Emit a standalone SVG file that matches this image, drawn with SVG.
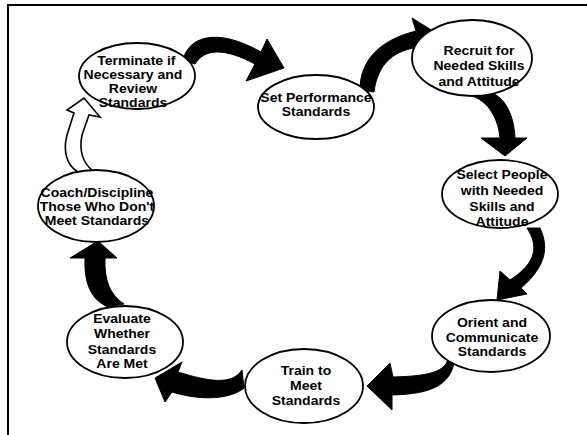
<svg xmlns="http://www.w3.org/2000/svg" width="587" height="435" viewBox="0 0 587 435">
<style>
.n ellipse{fill:#fff;stroke:#000;stroke-width:1.8}
.n text{font-family:"Liberation Sans",Arial,sans-serif;font-weight:bold;font-size:12.4px;text-anchor:middle;fill:#000}
.a{fill:#000;stroke:#000;stroke-width:1}
.w{fill:#fff;stroke:#000;stroke-width:1.6}
.f{stroke:#000;stroke-width:2;fill:none}
</style>
<rect width="587" height="435" fill="#fff"/>
<path class="f" d="M8,435 V5 H587"/>
<g id="connectors">
<path class="a" d="M183,60 C188,38 215,26 261,52 L267,39 L284,68 L246,81 L255,64 C225,48 205,48 195,64 Z"/>
<path class="a" d="M360,90 C360,60 380,40 416,31 L412,18 L441,36 L423,56 L420,47 C395,50 378,62 374,92 Z"/>
<path class="a" d="M468,95 C485,98 498,115 500,138 L481,138 L505,156 L527,138 L515,138 C514,115 505,98 492,93 Z"/>
<path class="a" d="M527,228 C538,245 538,262 510,280 L500,271 L497,300 L527,294 L521,288 C548,265 548,245 540,228 Z"/>
<path class="a" d="M448,350 C452,372 430,376 393,377 L390,363 L367,386 L392,410 L392,395 C432,394 455,385 455,352 Z"/>
<path class="a" d="M242,370 C232,385 210,382 178,372 L182,362 L155,378 L165,402 L172,392 C205,402 232,398 244,388 Z"/>
<path class="a" d="M85,258 C84,285 92,300 108,307 L124,304 C110,295 104,280 105,258 L117,258 L98,241 L70,258 Z"/>
<path class="w" d="M78,172 C66,165 63,150 67,135 L74,113 L67,110 L84,98 L100,117 L89,115 L82,135 C79,150 83,163 93,171"/>
</g>
<g id="terminate" class="n"><ellipse cx="137" cy="76" rx="58" ry="33"/>
<g transform="matrix(1.13 0 0 1 -17.29 0)"><text x="136" y="65">Terminate if</text><text x="133" y="79">Necessary and</text><text x="133" y="93">Review</text><text x="133" y="107">Standards</text></g></g>
<g id="set" class="n"><ellipse cx="316" cy="107" rx="58" ry="32"/>
<g transform="matrix(1.13 0 0 1 -41.08 0)"><text x="316" y="102">Set Performance</text><text x="316" y="116">Standards</text></g></g>
<g id="recruit" class="n"><ellipse cx="472" cy="58" rx="60" ry="38"/>
<g transform="matrix(1.13 0 0 1 -62.27 0)"><text x="479" y="55">Recruit for</text><text x="479" y="70">Needed Skills</text><text x="479" y="86">and Attitude</text></g></g>
<g id="select" class="n"><ellipse cx="500" cy="194" rx="58" ry="34"/>
<g transform="matrix(1.13 0 0 1 -65.26 0)"><text x="502" y="179">Select People</text><text x="502" y="195">with Needed</text><text x="502" y="211">Skills and</text><text x="502" y="226">Attitude</text></g></g>
<g id="orient" class="n"><ellipse cx="491" cy="336" rx="59" ry="36"/>
<g transform="matrix(1.13 0 0 1 -63.96 0)"><text x="492" y="327">Orient and</text><text x="492" y="342">Communicate</text><text x="492" y="356">Standards</text></g></g>
<g id="train" class="n"><ellipse cx="304" cy="386" rx="59" ry="37"/>
<g transform="matrix(1.13 0 0 1 -39.78 0)"><text x="306" y="375">Train to</text><text x="306" y="390">Meet</text><text x="306" y="405">Standards</text></g></g>
<g id="evaluate" class="n"><ellipse cx="125" cy="342" rx="58" ry="36"/>
<g transform="matrix(1.13 0 0 1 -15.86 0)"><text x="122" y="323">Evaluate</text><text x="122" y="338">Whether</text><text x="122" y="354">Standards</text><text x="122" y="368">Are Met</text></g></g>
<g id="coach" class="n"><ellipse cx="96" cy="206" rx="58" ry="36"/>
<g transform="matrix(1.13 0 0 1 -12.61 0)"><text x="97" y="197">Coach/Discipline</text><text x="97" y="211">Those Who Don't</text><text x="97" y="225">Meet Standards</text></g></g>
</svg>
